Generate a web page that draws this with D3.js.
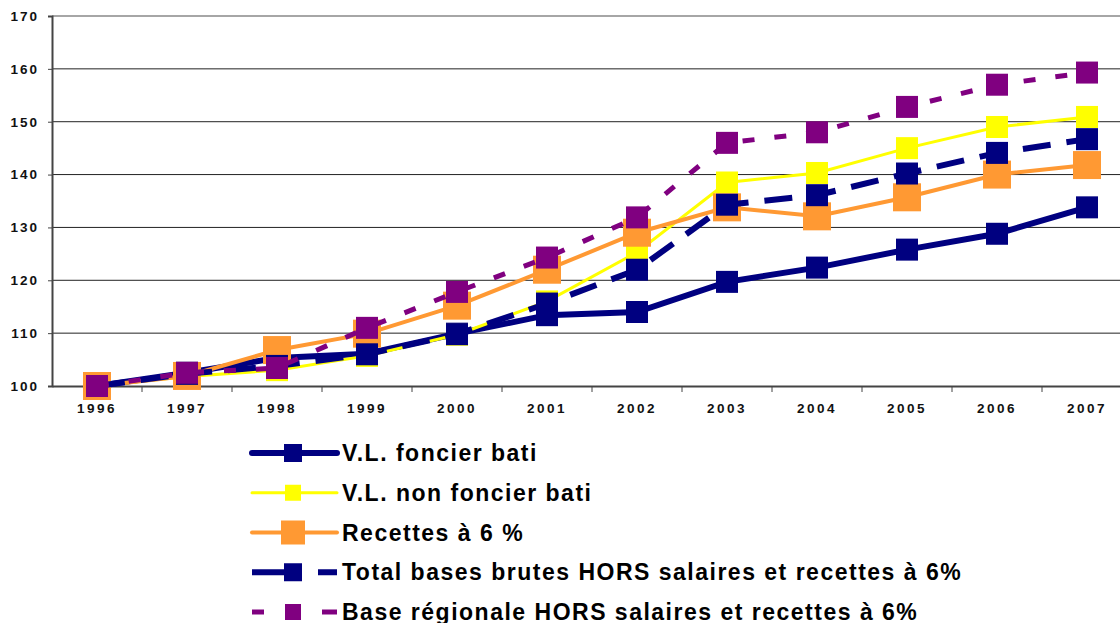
<!DOCTYPE html>
<html>
<head>
<meta charset="utf-8">
<script src="https://cdn.jsdelivr.net/npm/d3@7"></script>
<style>
  html, body { margin: 0; padding: 0; background: #fff; overflow: hidden; }
  svg { display: block; font-family: "Liberation Sans", Arial, sans-serif; }
</style>
</head>
<body>
<div id="mount"></div>
<script>
'use strict';

// categories and series
const years = ['1996', '1997', '1998', '1999', '2000', '2001', '2002', '2003', '2004', '2005', '2006', '2007'];
const foncierBati =    [100, 102.5, 105.3, 106.1, 109.9, 113.4, 114.0, 119.7, 122.4, 125.8, 128.8, 133.8];
const nonFoncierBati = [100, 101.8, 103.0, 105.7, 109.7, 116.0, 125.3, 138.5, 140.3, 145.0, 149.0, 150.9];
const recettes =       [100, 101.9, 106.8, 109.9, 115.2, 122.0, 129.0, 133.8, 132.1, 135.7, 140.0, 141.8];
const totalBases =     [100, 102.3, 103.8, 106.0, 109.8, 115.6, 122.0, 134.3, 136.1, 140.2, 144.1, 146.7];
const baseRegionale =  [100, 102.5, 103.4, 111.0, 117.8, 124.3, 131.9, 146.0, 148.0, 152.8, 157.0, 159.3];
const yTicks = [100, 110, 120, 130, 140, 150, 160, 170];

const series = [
  { name: 'V.L. foncier bati', values: foncierBati, color: '#000080', width: 6, dash: null, marker: 22 },
  { name: 'V.L. non foncier bati', values: nonFoncierBati, color: '#ffff00', width: 3, dash: null, marker: 22 },
  { name: 'Recettes à 6 %', values: recettes, color: '#ff9933', width: 4, dash: null, marker: 28 },
  { name: 'Total bases brutes HORS salaires et recettes à 6%', values: totalBases, color: '#000080', width: 6, dash: '28,16', marker: 22 },
  { name: 'Base régionale HORS salaires et recettes à 6%', values: baseRegionale, color: '#800080', width: 5, dash: '12,20', marker: 22 }
];

const W = 1120, H = 623;
const plot = { left: 52, right: 1132, top: 16, bottom: 386 };

const svg = d3.select('#mount').append('svg')
    .attr('width', W)
    .attr('height', H);

const x = d3.scaleBand().domain(years).range([plot.left, plot.right]);
const y = d3.scaleLinear().domain([100, 170]).range([plot.bottom, plot.top]);

// horizontal grid
svg.append('g')
  .selectAll('line')
  .data(yTicks.slice(1))
  .join('line')
    .attr('x1', plot.left)
    .attr('x2', W)
    .attr('y1', d => y(d))
    .attr('y2', d => y(d))
    .attr('stroke', d => d === 170 ? '#888' : '#222')
    .attr('stroke-width', d => d === 170 ? 1.5 : 1);

// y axis
const yAxis = svg.append('g')
    .attr('transform', `translate(${plot.left},0)`)
    .call(d3.axisLeft(y).tickValues(yTicks).tickSize(4).tickPadding(9).tickFormat(d3.format('d')));
yAxis.select('.domain').attr('stroke', '#444').attr('stroke-width', 2);
yAxis.selectAll('.tick line').attr('stroke', '#444');
yAxis.selectAll('text')
    .attr('font-size', 13.5)
    .attr('font-weight', 'bold')
    .attr('letter-spacing', 2)
    .attr('fill', '#111')
    .attr('font-family', '"Liberation Sans", Arial, sans-serif');

// x axis
const xAxis = svg.append('g')
    .attr('transform', `translate(0,${plot.bottom})`)
    .call(d3.axisBottom(x).tickSize(0).tickPadding(17));
xAxis.select('.domain').attr('stroke', '#444').attr('stroke-width', 2);
xAxis.selectAll('text')
    .attr('font-size', 13.5)
    .attr('font-weight', 'bold')
    .attr('letter-spacing', 2.5)
    .attr('fill', '#111')
    .attr('font-family', '"Liberation Sans", Arial, sans-serif');

// tick marks between categories
xAxis.selectAll('.sep')
  .data(years.slice(1))
  .join('line')
    .attr('class', 'sep')
    .attr('x1', d => x(d))
    .attr('x2', d => x(d))
    .attr('y1', 0)
    .attr('y2', 6)
    .attr('stroke', '#444');

const line = d3.line()
    .x((d, i) => x(years[i]) + x.bandwidth() / 2)
    .y(d => y(d));

// series
series.forEach(s => {
  const g = svg.append('g');
  g.append('path')
      .datum(s.values)
      .attr('d', line)
      .attr('fill', 'none')
      .attr('stroke', s.color)
      .attr('stroke-width', s.width)
      .attr('stroke-dasharray', s.dash);
  g.selectAll('rect')
    .data(s.values)
    .join('rect')
      .attr('x', (d, i) => x(years[i]) + x.bandwidth() / 2 - s.marker / 2)
      .attr('y', d => y(d) - s.marker / 2)
      .attr('width', s.marker)
      .attr('height', s.marker)
      .attr('fill', s.color);
});

// legend
const legend = svg.append('g');
const legY = d3.scalePoint().domain(series.map(s => s.name)).range([453, 612]);
const legendMarker = [18, 16, 24, 18, 16];

series.forEach((s, i) => {
  const row = legend.append('g').attr('transform', `translate(0,${legY(s.name)})`);
  if (s.dash) {
    const segs = i === 3 ? [[252, 300], [318, 337]] : [[252, 264], [322, 337]];
    segs.forEach(p => row.append('line')
        .attr('x1', p[0]).attr('x2', p[1]).attr('y1', 0).attr('y2', 0)
        .attr('stroke', s.color).attr('stroke-width', s.width));
  } else {
    row.append('line')
        .attr('x1', 252).attr('x2', 337).attr('y1', 0).attr('y2', 0)
        .attr('stroke', s.color).attr('stroke-width', s.width)
        .attr('stroke-linecap', 'round');
  }
  const m = legendMarker[i];
  row.append('rect')
      .attr('x', 293 - m / 2).attr('y', -m / 2)
      .attr('width', m).attr('height', m)
      .attr('fill', s.color);
  row.append('text')
      .attr('x', 342)
      .attr('y', 8)
      .attr('font-size', 23)
      .attr('font-weight', 'bold')
      .attr('letter-spacing', 1.5)
      .attr('fill', '#000')
      .text(s.name);
});
</script>
</body>
</html>
